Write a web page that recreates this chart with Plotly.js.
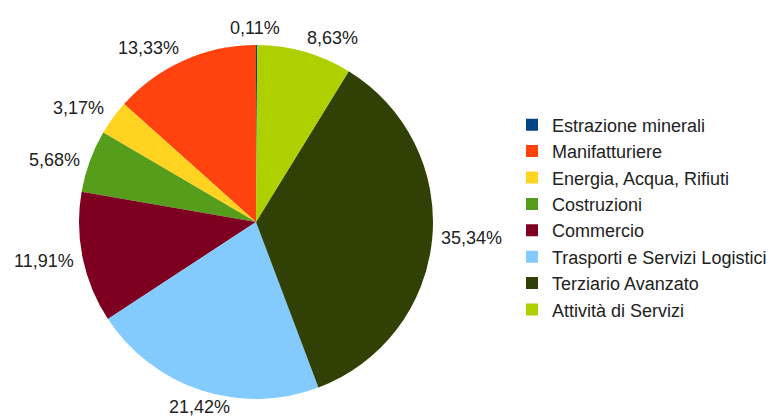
<!DOCTYPE html>
<html>
<head>
<meta charset="utf-8">
<script src="https://cdn.plot.ly/plotly-3.0.1.min.js"></script>
<style>html,body{margin:0;padding:0;background:#fff;}#chart{width:772px;height:418px;}</style>
</head>
<body>
<div id="chart"></div>
<script>
var categories = ["Estrazione minerali", "Manifatturiere", "Energia, Acqua, Rifiuti", "Costruzioni", "Commercio", "Trasporti e Servizi Logistici", "Terziario Avanzato", "Attività di Servizi"];
var shares = [0.11, 13.33, 3.17, 5.68, 11.91, 21.42, 35.34, 8.63];
var colors = ["#004586", "#ff420e", "#ffd320", "#579d1c", "#7e0021", "#83caff", "#314004", "#aecf00"];

var labelsText = shares.map(function(v){ return v.toFixed(2).replace('.', ',') + '%'; });

// figure / pie geometry (pixels)
var W = 772, H = 418;
var pieCx = 256, pieCy = 222, pieR = 177;
var labelGap = 8, halfW = 27, halfH = 8;

var data = [{
  type: 'pie',
  labels: categories,
  values: shares,
  text: labelsText,
  textinfo: 'none',
  sort: false,
  direction: 'counterclockwise',
  rotation: 0,
  hoverinfo: 'label+text',
  marker: {colors: colors, line: {width: 0}},
  domain: {x: [(pieCx - pieR)/W, (pieCx + pieR)/W], y: [(H - pieCy - pieR)/H, (H - pieCy + pieR)/H]}
}];

// outside labels placed at each slice's mid-angle, derived from the values
var total = shares.reduce(function(a, b){ return a + b; }, 0);
var annotations = [];
var cum = 0;
shares.forEach(function(v, i){
  var mid = (cum + v / 2) / total * 2 * Math.PI; // counterclockwise from 12 o'clock
  cum += v;
  var ux = -Math.sin(mid), uy = -Math.cos(mid); // screen direction (y down)
  var px = pieCx + ux * (pieR + labelGap);
  var py = pieCy + uy * (pieR + labelGap);
  var sx = ux > 0.25 ? 1 : (ux < -0.35 ? -1 : 0);
  var sy = uy < -0.5 ? -1 : (uy > 0.8 ? 1 : 0);
  var w = halfW + (labelsText[i].length - 5) * 4;
  var cx = px + sx * w;
  var cy = py + sy * (sx === 0 ? halfH + 1 : halfH - 2);
  annotations.push({
    xref: 'paper', yref: 'paper',
    x: cx / W, y: 1 - cy / H,
    xanchor: 'center', yanchor: 'middle',
    text: labelsText[i],
    showarrow: false,
    font: {family: 'Liberation Sans, Arial, sans-serif', size: 18, color: '#222'}
  });
});

var layout = {
  width: W,
  height: H,
  margin: {l: 0, r: 0, t: 0, b: 0, autoexpand: false},
  paper_bgcolor: '#ffffff',
  showlegend: true,
  legend: {
    x: 512/W, xanchor: 'left',
    y: (H - 217.5)/H, yanchor: 'middle',
    font: {family: 'Liberation Sans, Arial, sans-serif', size: 18, color: '#222'},
    bgcolor: 'rgba(0,0,0,0)'
  },
  annotations: annotations,
  font: {family: 'Liberation Sans, Arial, sans-serif'}
};

Plotly.newPlot('chart', data, layout, {displayModeBar: false, staticPlot: true});
</script>
</body>
</html>
